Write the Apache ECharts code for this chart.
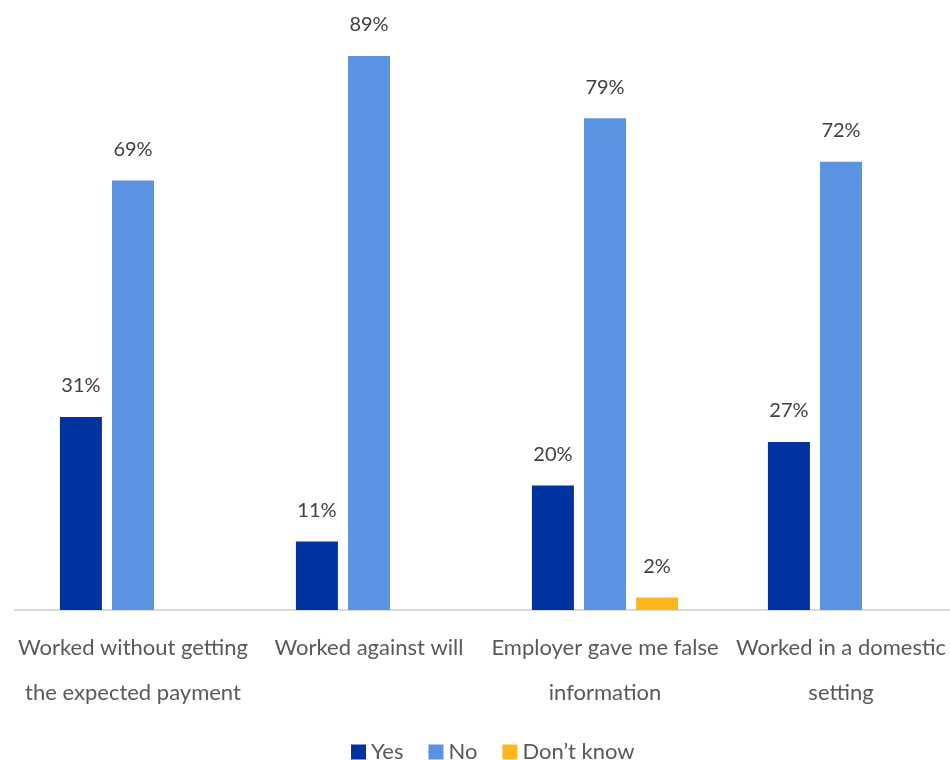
<!DOCTYPE html>
<html>
<head>
<meta charset="utf-8">
<style>
  html, body { margin: 0; padding: 0; background: #ffffff; }
  #chart { width: 950px; height: 760px; }
</style>
<script src="https://cdn.jsdelivr.net/npm/echarts@6/dist/echarts.min.js"></script>
</head>
<body>
<div id="chart"></div>
<script>
// Survey answers per experience, in percent
const categories = [
  'Worked without getting\nthe expected payment',
  'Worked against will',
  'Employer gave me false\ninformation',
  'Worked in a domestic\nsetting'
];
const yesValues = [31, 11, 20, 27];
const noValues = [69, 89, 79, 72];
const dontKnowValues = [null, null, 2, null];
const seriesNames = ['Yes', 'No', 'Don\u2019t know'];
const seriesColors = ['#0033A0', '#5B93E3', '#FDB71D'];

const FONT = 'Lato, "Open Sans", sans-serif';

const chart = echarts.init(document.getElementById('chart'));

function barSeries(name, data, color) {
  return {
    name: name,
    type: 'bar',
    data: data,
    barWidth: 42,
    barGap: '24%',
    itemStyle: { color: color },
    label: {
      show: true,
      position: 'top',
      distance: 21,
      formatter: p => p.value + '%',
      color: '#404040',
      fontSize: 20,
      fontFamily: FONT
    }
  };
}

chart.setOption({
  animation: false,
  // the plot runs slightly past the right edge of the canvas
  grid: {
    left: 15, width: 944, top: 0, bottom: 150,
    containLabel: false,
    outerBoundsMode: 'none'
  },
  legend: {
    left: 346,
    top: 736,
    itemWidth: 15,
    itemHeight: 15,
    itemGap: 25,
    icon: 'rect',
    textStyle: { color: '#595959', fontSize: 22, fontFamily: FONT },
    data: seriesNames
  },
  xAxis: {
    type: 'category',
    data: categories,
    axisLine: { lineStyle: { color: '#d9d9d9', width: 2 } },
    axisTick: { show: false },
    axisLabel: {
      interval: 0,
      margin: 15,
      color: '#595959',
      fontSize: 22,
      lineHeight: 45,
      fontFamily: FONT
    }
  },
  yAxis: {
    type: 'value',
    min: 0,
    max: 98,
    show: false,
    splitLine: { show: false }
  },
  series: [
    barSeries(seriesNames[0], yesValues, seriesColors[0]),
    barSeries(seriesNames[1], noValues, seriesColors[1]),
    barSeries(seriesNames[2], dontKnowValues, seriesColors[2])
  ]
});
</script>
</body>
</html>
